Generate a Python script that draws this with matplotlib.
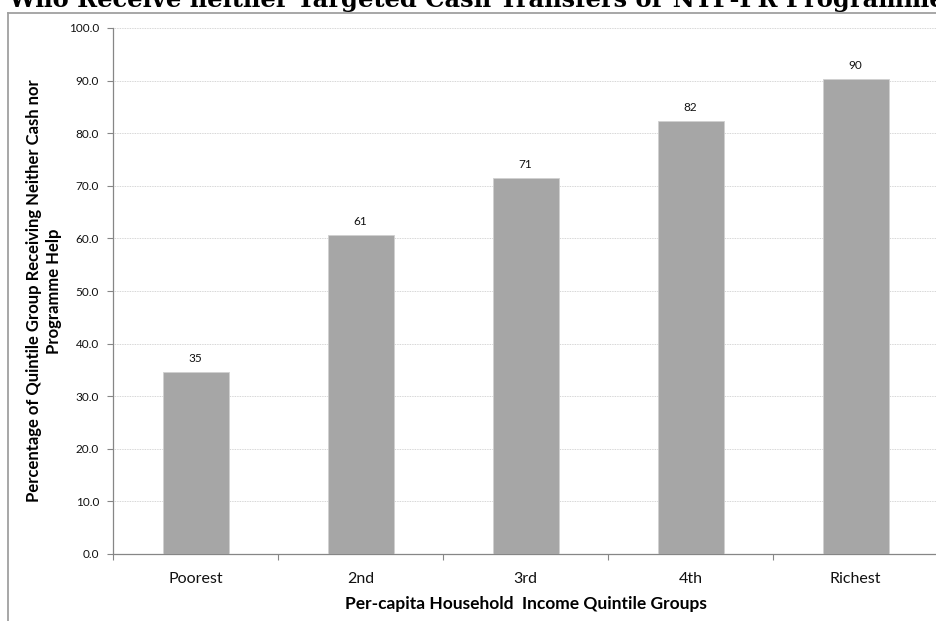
import matplotlib.pyplot as plt
import numpy as np

groups = ["Poorest", "2nd", "3rd", "4th", "Richest"]
pct_neither = [34.6, 60.6, 71.4, 82.3, 90.3]
y_ticks = [0, 10, 20, 30, 40, 50, 60, 70, 80, 90, 100]

title = "Who Receive neither Targeted Cash Transfers or NTP-PR Programme"
ylab = "Percentage of Quintile Group Receiving Neither Cash nor\nProgramme Help"
xlab = "Per-capita Household  Income Quintile Groups"

plt.rcParams['font.family'] = ['Lato', 'DejaVu Sans']

W, H = 936, 621
fig = plt.figure(figsize=(W / 100, H / 100), dpi=100)
ax = fig.add_axes([113 / W, 1 - 554 / H, 825 / W, 526 / H])

x = np.arange(len(groups))
bars = ax.bar(x, pct_neither, width=0.4, color="#a6a6a6", edgecolor="#d0d0d0",
              linewidth=0.6, zorder=3)
for b, v in zip(bars, pct_neither):
    ax.text(b.get_x() + b.get_width() / 2, v + 1.6, "{:.0f}".format(v),
            ha="center", va="bottom", fontsize=8.5, color="#111111")

ax.set_xlim(-0.5, len(groups) - 0.5)
ax.set_ylim(0, 100)
ax.set_yticks(y_ticks)
ax.set_yticklabels(["{:.1f}".format(t) for t in y_ticks], fontsize=8.5, color="#111111")
ax.set_xticks(x)
ax.set_xticklabels(groups, fontsize=11.5, color="#111111")
ax.set_xticks(np.arange(len(groups) + 1) - 0.5, minor=True)
ax.tick_params(axis="x", which="major", length=0, pad=13)
ax.tick_params(axis="x", which="minor", length=4, color="#868686", width=0.8)
ax.tick_params(axis="y", length=4, color="#868686", width=0.8, pad=6)

ax.grid(axis="y", linestyle=(0, (1, 1)), color="#c8c8c8", linewidth=0.6, zorder=0)
for side in ["top", "right"]:
    ax.spines[side].set_visible(False)
for side in ["left", "bottom"]:
    ax.spines[side].set_color("#868686")
    ax.spines[side].set_linewidth(0.9)

ax.set_xlabel(xlab, fontsize=12.5, fontweight="bold", labelpad=7)
ax.set_ylabel(ylab, fontsize=12, fontweight="bold", labelpad=5, linespacing=1.3)

# frame of the original chart box, cropped at the top and right
fig.add_artist(plt.Line2D([8 / W, 8 / W], [0, 1 - 13 / H], color="#a0a0a0", lw=1.3))
fig.add_artist(plt.Line2D([8 / W, 1], [1 - 13 / H, 1 - 13 / H], color="#a0a0a0", lw=1.3))

# title sits mostly above the visible area
fig.text(8 / W, 1 - 7 / H, title, fontsize=17.4, fontweight="bold",
         family="DejaVu Serif", ha="left", va="baseline")

fig.savefig("out.png", dpi=100)
